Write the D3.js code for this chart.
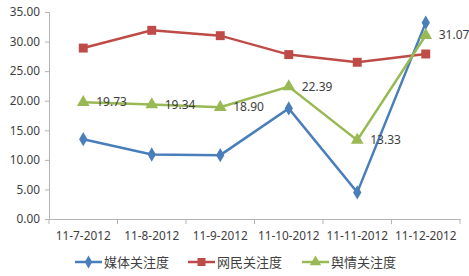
<!DOCTYPE html>
<html>
<head>
<meta charset="utf-8">
<script src="https://cdn.jsdelivr.net/npm/d3@7.9.0/dist/d3.min.js"></script>
<style>
  body { margin: 0; background: #fff; }
  svg text { font-family: "Noto Sans", "Noto Sans CJK SC", sans-serif; fill: #404040; }
</style>
</head>
<body>
<div id="chart"></div>
<script>
// ---- data ----
const categories = ['11-7-2012', '11-8-2012', '11-9-2012', '11-10-2012', '11-11-2012', '11-12-2012'];
const seriesNames = ['媒体关注度', '网民关注度', '舆情关注度'];
const mediaValues = [13.5, 10.9, 10.8, 18.7, 4.5, 33.2];
const netizenValues = [28.9, 31.9, 31.0, 27.8, 26.5, 27.9];
const opinionValues = [19.73, 19.34, 18.90, 22.39, 13.33, 31.07];
const yTicks = [0, 5, 10, 15, 20, 25, 30, 35];

const W = 469, H = 276;
const margin = { left: 49, right: 9, top: 12, bottom: 57 };

const svg = d3.select('#chart').append('svg')
  .attr('width', W).attr('height', H);

const x = d3.scaleBand()
  .domain(categories)
  .range([margin.left, W - margin.right]);

const y = d3.scaleLinear()
  .domain([0, 35])
  .range([H - margin.bottom, margin.top]);

// axes
const yAxis = d3.axisLeft(y).tickValues(yTicks).tickFormat(d3.format('.2f')).tickSize(4).tickPadding(5);
const xAxis = d3.axisBottom(x).tickSize(0).tickPadding(13);

const gy = svg.append('g').attr('transform', `translate(${margin.left},0)`).call(yAxis);
const gx = svg.append('g').attr('transform', `translate(0,${H - margin.bottom})`).call(xAxis);

[gx, gy].forEach(g => {
  g.select('.domain').attr('stroke', '#b3b3b3');
  g.selectAll('.tick line').attr('stroke', '#b3b3b3');
  g.selectAll('.tick text').attr('font-size', 11.8).attr('fill', '#404040');
});

// category boundary ticks on x axis
const bounds = categories.map(c => x(c)).concat([x.range()[1]]);
svg.append('g').selectAll('line').data(bounds).join('line')
  .attr('x1', d => d).attr('x2', d => d)
  .attr('y1', H - margin.bottom).attr('y2', H - margin.bottom + 5)
  .attr('stroke', '#b3b3b3');

const cx = c => x(c) + x.bandwidth() / 2;

const series = [
  { name: seriesNames[0], values: mediaValues, color: '#4a7ebb', symbol: d3.symbolDiamond, size: 60 },
  { name: seriesNames[1], values: netizenValues, color: '#be4b48', symbol: d3.symbolSquare, size: 80 },
  { name: seriesNames[2], values: opinionValues, color: '#98b954', symbol: d3.symbolTriangle, size: 70 }
];

const line = d3.line().x((d, i) => cx(categories[i])).y(d => y(d));

series.forEach(s => {
  svg.append('path')
    .attr('d', line(s.values))
    .attr('fill', 'none')
    .attr('stroke', s.color)
    .attr('stroke-width', 2.5);
});

series.forEach(s => {
  svg.append('g').selectAll('path').data(s.values).join('path')
    .attr('transform', (d, i) => `translate(${cx(categories[i])},${y(d)})`)
    .attr('d', d3.symbol().type(s.symbol).size(s.size))
    .attr('fill', s.color);
});

// data labels for the opinion series
svg.append('g').selectAll('text').data(opinionValues).join('text')
  .attr('x', (d, i) => cx(categories[i]) + 13)
  .attr('y', d => y(d) + 4)
  .attr('font-size', 12)
  .text(d => d.toFixed(2));

// legend
const legendX = [75, 188, 302];
const legendY = 262;
series.forEach((s, i) => {
  const g = svg.append('g').attr('transform', `translate(${legendX[i]},${legendY})`);
  g.append('line').attr('x1', 0).attr('x2', 27).attr('y1', 0).attr('y2', 0)
    .attr('stroke', s.color).attr('stroke-width', 2.5);
  g.append('path').attr('transform', 'translate(13.5,0)')
    .attr('d', d3.symbol().type(s.symbol).size(s.size * 0.8))
    .attr('fill', s.color);
  g.append('text').attr('x', 29).attr('y', 5).attr('font-size', 13)
    .attr('font-family', '"Noto Sans CJK SC", sans-serif')
    .text(s.name);
});
</script>
</body>
</html>
